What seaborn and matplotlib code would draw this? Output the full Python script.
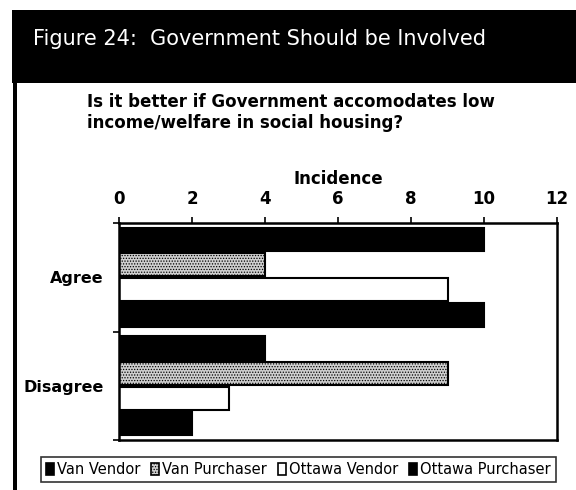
import matplotlib
matplotlib.use("Agg")
import matplotlib.pyplot as plt
import matplotlib.patches as mpatches
import seaborn as sns
import pandas as pd

# Survey responses: incidence by group
responses = ["Agree", "Disagree"]
groups = ["Van Vendor", "Van Purchaser", "Ottawa Vendor", "Ottawa Purchaser"]
van_vendor = [10, 4]
van_purchaser = [4, 9]
ottawa_vendor = [9, 3]
ottawa_purchaser = [10, 2]
x_ticks = [0, 2, 4, 6, 8, 10, 12]

df = pd.DataFrame({
    "Response": responses * 4,
    "Group": [g for g in groups for _ in responses],
    "Incidence": van_vendor + van_purchaser + ottawa_vendor + ottawa_purchaser,
})

sns.set_theme(style="white")
plt.rcParams["font.family"] = ["DejaVu Sans"]
plt.rcParams.update({
    "text.color": "black",
    "axes.labelcolor": "black",
    "xtick.color": "black",
    "ytick.color": "black",
    "hatch.linewidth": 0.6,
    "hatch.color": "#7a7a7a",
})

W, H = 576, 490
fig = plt.figure(figsize=(W / 100, H / 100), dpi=100)
fig.patch.set_facecolor("white")


def fx(px):
    return px / W


def fy(py):
    return 1 - py / H


# Black header band and left border of the panel
fig.patches.append(mpatches.Rectangle((fx(12), fy(83)), 1, (83 - 10) / H,
                                      transform=fig.transFigure, facecolor="black",
                                      edgecolor="none", zorder=0))
fig.patches.append(mpatches.Rectangle((fx(13), 0), 4 / W, fy(83),
                                      transform=fig.transFigure, facecolor="black",
                                      edgecolor="none", zorder=0))
fig.text(fx(33), fy(45), "Figure 24:  Government Should be Involved",
         color="white", fontsize=15, va="baseline", ha="left")
fig.text(fx(87), fy(107), "Is it better if Government accomodates low",
         color="black", fontsize=12, fontweight="bold", va="baseline", ha="left")
fig.text(fx(87), fy(128), "income/welfare in social housing?",
         color="black", fontsize=12, fontweight="bold", va="baseline", ha="left")

ax = fig.add_axes([fx(119), fy(440), (557 - 119) / W, (440 - 223) / H])
palette = {"Van Vendor": "black", "Van Purchaser": "#cfcfcf",
           "Ottawa Vendor": "white", "Ottawa Purchaser": "black"}
sns.barplot(data=df, y="Response", x="Incidence", hue="Group", hue_order=groups,
            order=responses, orient="h", palette=palette, width=0.93, gap=0.08,
            edgecolor="black", linewidth=1.5, saturation=1, ax=ax, legend=False)

for bar in ax.containers[1]:
    bar.set_hatch("......")

ax.set_xlim(0, 12)
ax.set_ylim(1.5, -0.5)
ax.set_xticks(x_ticks)
ax.set_xticklabels([str(t) for t in x_ticks], fontsize=12, fontweight="bold",
                   color="black")
ax.xaxis.set_ticks_position("top")
ax.xaxis.set_label_position("top")
ax.set_xlabel("Incidence", fontsize=12, fontweight="bold", labelpad=4, color="black")
ax.set_ylabel("")
ax.set_yticks([-0.5, 0.5, 1.5], minor=False)
ax.set_yticklabels([])
ax.set_yticks([0, 1], minor=True)
ax.set_yticklabels(responses, minor=True, fontsize=11.5, fontweight="bold",
                   color="black")
ax.tick_params(axis="y", which="minor", length=0, pad=11)
ax.tick_params(axis="y", which="major", length=4, width=1.2, direction="out",
               color="black", left=True)
ax.tick_params(axis="x", length=4, width=1.2, direction="out", color="black",
               top=True, pad=7)
for spine in ax.spines.values():
    spine.set_visible(True)
    spine.set_color("black")
    spine.set_linewidth(1.8)

handles = [mpatches.Patch(facecolor=palette[g], edgecolor="black", linewidth=1.2,
                          hatch="......" if g == "Van Purchaser" else None, label=g)
           for g in groups]
leg = fig.legend(handles=handles, loc="center", ncol=4, mode="expand",
                 bbox_to_anchor=(fx(41), fy(483), (556 - 41) / W, (483 - 456) / H),
                 fontsize=10.5, frameon=True, fancybox=False, edgecolor="black",
                 handlelength=0.55, handleheight=0.8, handletextpad=0.2,
                 columnspacing=1.0, borderpad=0.35, borderaxespad=0,
                 labelcolor="black")
leg.get_frame().set_linewidth(1.2)

fig.savefig("out.png", dpi=100, facecolor="white")
